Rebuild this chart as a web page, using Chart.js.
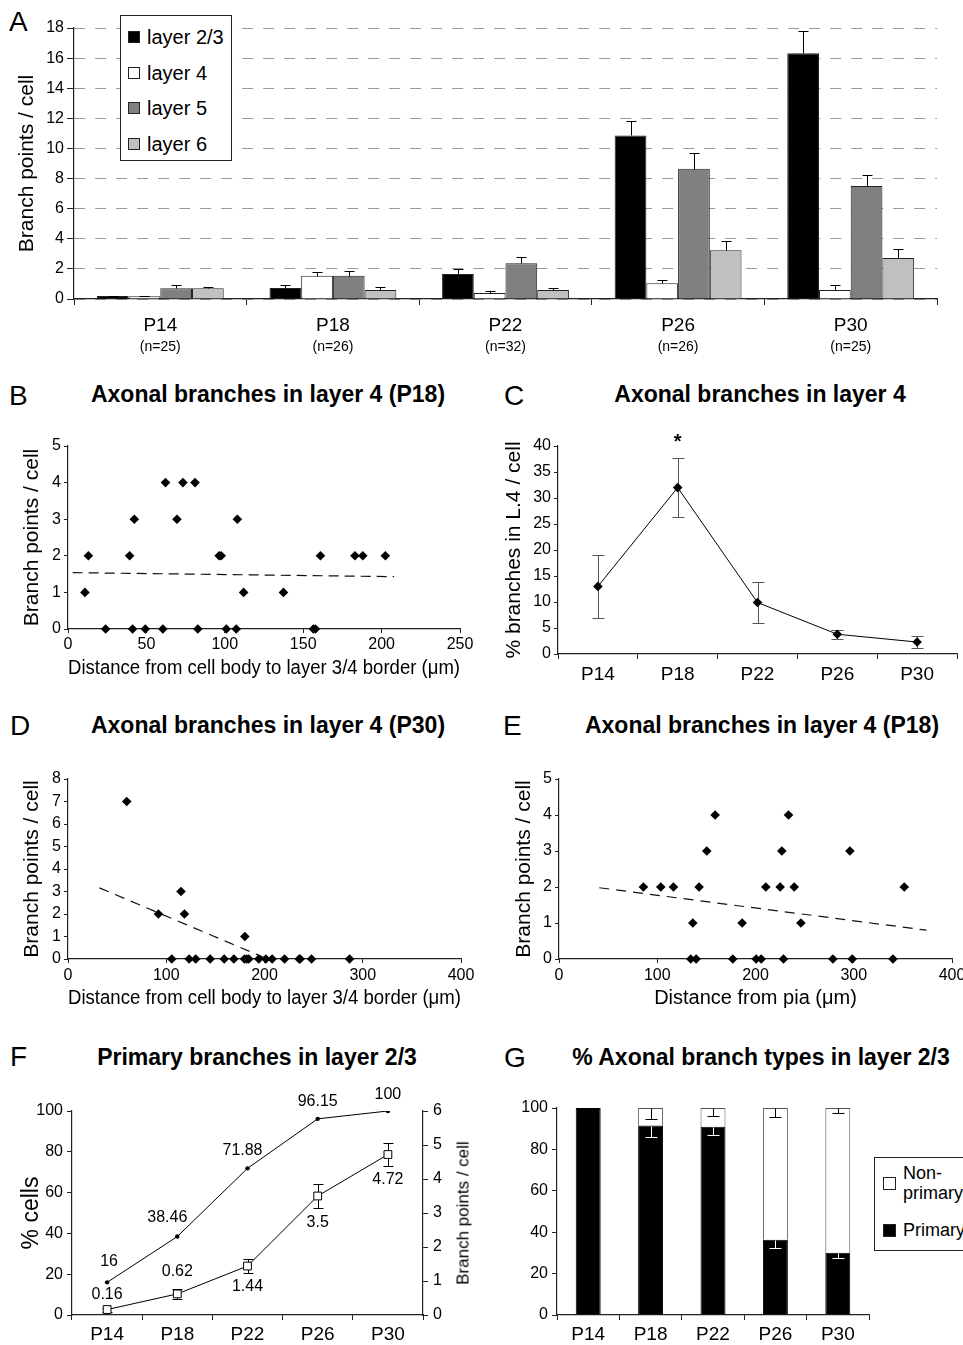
<!DOCTYPE html>
<html>
<head>
<meta charset="utf-8">
<script src="https://cdn.jsdelivr.net/npm/chart.js@4.4.1/dist/chart.umd.min.js"></script>
<style>
  html, body { margin: 0; padding: 0; background: #fff; }
  body { width: 963px; height: 1345px; position: relative; overflow: hidden; font-family: 'Liberation Sans', Arial, sans-serif; color: #000; }
  canvas { position: absolute; }
  .letter { position: absolute; font-size: 28px; line-height: 28px; }
  .title { position: absolute; font-size: 23px; line-height: 23px; font-weight: bold; white-space: nowrap; transform: translateX(-50%); }
  .legend { position: absolute; background: #fff; border: 1px solid #222; }
  .legend .sw { position: absolute; width: 12px; height: 12px; border: 1px solid #222; box-sizing: border-box; }
  .legend .tx { position: absolute; font-size: 20px; line-height: 20px; white-space: nowrap; }
  .rtitle { position: absolute; font-size: 17px; line-height: 17px; white-space: nowrap; transform: translate(-50%, -50%) rotate(-90deg); }
</style>
</head>
<body>

<div class="letter" style="left:9px;top:8px">A</div>
<div class="letter" style="left:9px;top:382px">B</div>
<div class="letter" style="left:504px;top:382px">C</div>
<div class="letter" style="left:10px;top:712px">D</div>
<div class="letter" style="left:503px;top:712px">E</div>
<div class="letter" style="left:10px;top:1043px">F</div>
<div class="letter" style="left:504px;top:1044px">G</div>

<div class="title" style="left:268px;top:383px">Axonal branches in layer 4 (P18)</div>
<div class="title" style="left:760px;top:383px">Axonal branches in layer 4</div>
<div class="title" style="left:268px;top:714px">Axonal branches in layer 4 (P30)</div>
<div class="title" style="left:762px;top:714px">Axonal branches in layer 4 (P18)</div>
<div class="title" style="left:257px;top:1046px">Primary branches in layer 2/3</div>
<div class="title" style="left:761px;top:1046px">% Axonal branch types in layer 2/3</div>

<canvas id="chartA" width="963" height="360" style="left:0;top:0"></canvas>
<canvas id="chartB" width="480" height="270" style="left:0;top:420px"></canvas>
<canvas id="chartC" width="483" height="270" style="left:480px;top:420px"></canvas>
<canvas id="chartD" width="480" height="270" style="left:0;top:750px"></canvas>
<canvas id="chartE" width="503" height="270" style="left:480px;top:750px"></canvas>
<canvas id="chartF" width="480" height="265" style="left:0;top:1080px"></canvas>
<canvas id="chartG" width="483" height="265" style="left:480px;top:1080px"></canvas>

<div class="legend" style="left:120px;top:15px;width:110px;height:144px">
  <div class="sw" style="left:7px;top:15px;background:#000"></div><div class="tx" style="left:26px;top:11px">layer 2/3</div>
  <div class="sw" style="left:7px;top:51px;background:#fff"></div><div class="tx" style="left:26px;top:47px">layer 4</div>
  <div class="sw" style="left:7px;top:86px;background:#808080"></div><div class="tx" style="left:26px;top:82px">layer 5</div>
  <div class="sw" style="left:7px;top:122px;background:#c0c0c0"></div><div class="tx" style="left:26px;top:118px">layer 6</div>
</div>

<div class="legend" style="left:874px;top:1157px;width:110px;height:92px">
  <div class="sw" style="left:8px;top:19px;width:13px;height:13px;background:#fff"></div>
  <div class="tx" style="left:28px;top:5px;font-size:18px;line-height:20px">Non-<br>primary</div>
  <div class="sw" style="left:8px;top:66px;width:13px;height:13px;background:#000"></div>
  <div class="tx" style="left:28px;top:63px;font-size:18px;line-height:18px">Primary</div>
</div>

<div class="rtitle" style="left:463px;top:1213px">Branch points / cell</div>

<script>
// ---- data ----
const ages = ['P14', 'P18', 'P22', 'P26', 'P30'];
const cellCounts = ['(n=25)', '(n=26)', '(n=32)', '(n=26)', '(n=25)'];

// A: branch points per cell by layer
const layer23 = [0.2, 0.73, 1.66, 10.86, 16.33];
const layer23Err = [0.03, 0.18, 0.33, 0.95, 1.44];
const layer4 = [0.18, 1.55, 0.4, 1.04, 0.6];
const layer4Err = [0.02, 0.22, 0.11, 0.2, 0.31];
const layer5 = [0.71, 1.55, 2.37, 8.65, 7.5];
const layer5Err = [0.2, 0.31, 0.44, 1.06, 0.75];
const layer6 = [0.71, 0.6, 0.6, 3.23, 2.72];
const layer6Err = [0.11, 0.22, 0.11, 0.64, 0.62];

// B: P18, distance from layer 3/4 border
const bDist = [10.8, 112, 137.4, 13, 39.3, 96.4, 97.7, 161, 183, 188, 202.4, 42.3, 69.5, 108, 62.2, 73.3, 81, 24, 41.2, 49.3, 60.5, 82.8, 101, 107.3, 156.5, 157.8];
const bBranch = [1, 1, 1, 2, 2, 2, 2, 2, 2, 2, 2, 3, 3, 3, 4, 4, 4, 0, 0, 0, 0, 0, 0, 0, 0, 0];
const bTrendX = [3, 208];
const bTrendY = [1.54, 1.43];

// C: % branches in L4
const cPercent = [13.0, 32.0, 9.9, 3.8, 2.3];
const cErr = [6.1, 5.7, 3.9, 0.9, 1.2];
const cSignif = ['', '*', '', '', ''];

// D: P30, distance from layer 3/4 border
const dDist = [59.8, 92, 115, 118.5, 180, 105.6, 123.3, 130, 144.7, 159, 168.8, 179.6, 182, 184, 194.2, 201.4, 207.8, 220.4, 235.3, 236.3, 247.9, 286.6];
const dBranch = [7, 2, 3, 2, 1, 0, 0, 0, 0, 0, 0, 0, 0, 0, 0, 0, 0, 0, 0, 0, 0, 0];
const dTrendX = [32, 203];
const dTrendY = [3.16, 0];

// E: P18, distance from pia
const eDist = [85.9, 103.6, 116.5, 142.6, 210.5, 225.1, 239.4, 351.4, 150.4, 226.8, 296.1, 158.9, 233.6, 136.2, 186.4, 246.2, 134.1, 139.6, 176.9, 200.7, 205.8, 228.5, 278.8, 298.5, 339.9];
const eBranch = [2, 2, 2, 2, 2, 2, 2, 2, 3, 3, 3, 4, 4, 1, 1, 1, 0, 0, 0, 0, 0, 0, 0, 0, 0];
const eTrendX = [41, 374];
const eTrendY = [1.98, 0.8];

// F: primary branches in layer 2/3
const fPercent = [16, 38.46, 71.88, 96.15, 100];
const fBranch = [0.16, 0.62, 1.44, 3.5, 4.72];
const fBranchErr = [0.06, 0.15, 0.2, 0.35, 0.33];

// G: branch types in layer 2/3
const gPrimary = [100, 91.5, 91, 36.4, 30.1];
const gPrimaryErr = [0, 5.5, 3.9, 4, 2.4];
const gNonPrimary = [0, 8.5, 9, 63.6, 69.9];
const gNonPrimaryErr = [0, 5.5, 3.9, 4.4, 2.4];

// ---- helpers / plugins ----
Chart.defaults.font.family = "'Liberation Sans', Arial, sans-serif";
Chart.defaults.color = '#000';

const pts = (xs, ys) => xs.map((x, i) => ({ x: x, y: ys[i] }));

function drawErrors(chart, before) {
  const ctx = chart.ctx;
  chart.data.datasets.forEach((ds, i) => {
    if (!ds.errors || !!ds.errorBefore !== before) return;
    const meta = chart.getDatasetMeta(i);
    const scale = chart.scales[meta.yAxisID];
    const unit = Math.abs(scale.getPixelForValue(1) - scale.getPixelForValue(0));
    const cap = ds.errorCap || 5;
    const dir = ds.errorDir || 'both';
    ctx.save();
    ctx.strokeStyle = ds.errorColor || '#000';
    ctx.lineWidth = 1;
    meta.data.forEach((el, j) => {
      const e = ds.errors[j];
      if (!e) return;
      const x = Math.round(el.x) + 0.5;
      const top = Math.round(dir === 'down' ? el.y : el.y - e * unit) + 0.5;
      const bot = Math.round(dir === 'up' ? el.y : el.y + e * unit) + 0.5;
      ctx.beginPath();
      ctx.moveTo(x, top);
      ctx.lineTo(x, bot);
      if (dir !== 'down') { ctx.moveTo(x - cap, top); ctx.lineTo(x + cap, top); }
      if (dir !== 'up') { ctx.moveTo(x - cap, bot); ctx.lineTo(x + cap, bot); }
      ctx.stroke();
    });
    ctx.restore();
  });
}

const errorBars = {
  id: 'errorBars',
  beforeDatasetsDraw(chart) { drawErrors(chart, true); },
  afterDatasetsDraw(chart) { drawErrors(chart, false); }
};

// text next to points (values, asterisk)
const pointText = {
  id: 'pointText',
  afterDatasetsDraw(chart) {
    const ctx = chart.ctx;
    chart.data.datasets.forEach((ds, i) => {
      if (!ds.pointText) return;
      const meta = chart.getDatasetMeta(i);
      ctx.save();
      ctx.font = ds.pointTextFont || "16px 'Liberation Sans', Arial";
      ctx.fillStyle = '#000';
      ctx.textAlign = 'center';
      ctx.textBaseline = 'middle';
      meta.data.forEach((el, j) => {
        const t = ds.pointText[j];
        if (t === '' || t === undefined) return;
        const dx = ds.pointTextDx ? ds.pointTextDx[j] : 0;
        ctx.fillText(t, el.x + dx, el.y + ds.pointTextDy[j]);
      });
      ctx.restore();
    });
  }
};

// second line under category labels
const subLabels = {
  id: 'subLabels',
  afterDraw(chart, args, opts) {
    if (!opts.text) return;
    const ctx = chart.ctx;
    const xs = chart.scales.x;
    ctx.save();
    ctx.font = opts.font;
    ctx.fillStyle = '#000';
    ctx.textAlign = 'center';
    ctx.textBaseline = 'middle';
    opts.text.forEach((t, i) => ctx.fillText(t, xs.getPixelForValue(i), chart.chartArea.bottom + opts.offset));
    ctx.restore();
  }
};

Chart.register(errorBars, pointText, subLabels);

function baseOpts(pad) {
  return {
    responsive: false,
    animation: false,
    events: [],
    layout: { padding: pad },
    plugins: { legend: { display: false }, tooltip: { enabled: false } },
    scales: {}
  };
}

function plainAxis(min, max, step, width, tick, title) {
  return {
    type: 'linear', min: min, max: max,
    afterFit: s => { if (s.isHorizontal()) s.height = width; else s.width = width; },
    border: { color: '#222', width: 1.2 },
    grid: { drawOnChartArea: false, drawTicks: true, tickLength: tick.len, color: '#222' },
    ticks: { stepSize: step, font: { size: 16 }, padding: tick.pad },
    title: title
  };
}

// ---- A ----
const barStyle = (label, data, err, fill) => ({
  label: label, data: data, backgroundColor: fill, borderColor: '#222', borderWidth: 1,
  borderSkipped: 'start', categoryPercentage: 0.735, barPercentage: 1.0,
  errors: err, errorDir: 'up', errorCap: 5, errorColor: '#000'
});

const optsA = baseOpts({ top: 28, right: 26, left: 0, bottom: 0 });
optsA.scales = {
  x: {
    type: 'category',
    afterFit: s => { s.height = 61; },
    border: { color: '#222', width: 1.2 },
    grid: { offset: true, drawOnChartArea: false, drawTicks: true, tickLength: 6, color: '#222' },
    ticks: { font: { size: 19 }, padding: 9 }
  },
  y: {
    min: 0, max: 18,
    afterFit: s => { s.width = 74; },
    border: { color: '#222', width: 1.2, dash: [11, 10] },
    grid: { color: '#9a9a9a', lineWidth: 1, drawTicks: true, tickLength: 7, tickColor: '#222' },
    ticks: { stepSize: 2, font: { size: 16 }, padding: 3 },
    title: { display: true, text: 'Branch points / cell', font: { size: 21 }, padding: { top: 15, bottom: 0 } }
  }
};
optsA.plugins.subLabels = { text: cellCounts, font: "14px 'Liberation Sans', Arial", offset: 48 };

new Chart(document.getElementById('chartA'), {
  type: 'bar',
  data: {
    labels: ages,
    datasets: [
      barStyle('layer 2/3', layer23, layer23Err, '#000'),
      barStyle('layer 4', layer4, layer4Err, '#fff'),
      barStyle('layer 5', layer5, layer5Err, '#808080'),
      barStyle('layer 6', layer6, layer6Err, '#c0c0c0')
    ]
  },
  options: optsA
});

// ---- scatter panels B, D, E ----
function scatterChart(id, xs, ys, tx, ty, pad, xMax, xStep, yMax, xTitle, yTitlePad, dash, xTickPad) {
  const opts = baseOpts(pad);
  opts.scales = {
    x: plainAxis(0, xMax, xStep, 61, { len: 4, pad: xTickPad },
      { display: true, text: xTitle, font: { size: 20 }, padding: { top: 0, bottom: 10 } }),
    y: plainAxis(0, yMax, 1, pad.yWidth, { len: 4, pad: 3 },
      { display: true, text: 'Branch points / cell', font: { size: 21 }, padding: { top: yTitlePad, bottom: 0 } })
  };
  new Chart(document.getElementById(id), {
    type: 'scatter',
    data: {
      datasets: [
        { data: pts(xs, ys), pointStyle: 'rectRot', pointRadius: 4.8, backgroundColor: '#000', borderColor: '#000', borderWidth: 0, clip: false },
        { type: 'line', data: pts(tx, ty), showLine: true, pointRadius: 0, borderColor: '#111', borderWidth: 1.2, borderDash: dash, fill: false }
      ]
    },
    options: opts
  });
}

scatterChart('chartB', bDist, bBranch, bTrendX, bTrendY, { top: 26, right: 20, left: 0, bottom: 0, yWidth: 68 },
  250, 50, 5, 'Distance from cell body to layer 3/4 border (\u03bcm)', 20, [10, 6], 2);
scatterChart('chartD', dDist, dBranch, dTrendX, dTrendY, { top: 29, right: 19, left: 0, bottom: 0, yWidth: 68 },
  400, 100, 8, 'Distance from cell body to layer 3/4 border (\u03bcm)', 20, [10, 7], 3);
scatterChart('chartE', eDist, eBranch, eTrendX, eTrendY, { top: 29, right: 31, left: 0, bottom: 0, yWidth: 79 },
  400, 100, 5, 'Distance from pia (\u03bcm)', 32, [10, 7], 3);

// ---- C ----
const optsC = baseOpts({ top: 26, right: 6, left: 0, bottom: 0 });
optsC.scales = {
  x: {
    type: 'category', offset: true,
    afterFit: s => { s.height = 36; },
    border: { color: '#222', width: 1.2 },
    grid: { offset: true, drawOnChartArea: false, drawTicks: true, tickLength: 5, color: '#222' },
    ticks: { font: { size: 19 }, padding: 4 }
  },
  y: plainAxis(0, 40, 5, 78, { len: 4, pad: 3 },
    { display: true, text: '% branches in L.4 / cell', font: { size: 21 }, padding: { top: 22, bottom: 0 } })
};
new Chart(document.getElementById('chartC'), {
  type: 'line',
  data: {
    labels: ages,
    datasets: [{
      data: cPercent, borderColor: '#000', borderWidth: 1, fill: false,
      pointStyle: 'rectRot', pointRadius: 4.8, pointBackgroundColor: '#000', pointBorderWidth: 0,
      errors: cErr, errorDir: 'both', errorCap: 6, errorColor: '#555', errorBefore: true,
      pointText: cSignif, pointTextDy: [0, -45, 0, 0, 0], pointTextFont: "bold 20px 'Liberation Sans', Arial"
    }]
  },
  options: optsC
});

// ---- F ----
const optsF = baseOpts({ top: 31, right: 0, left: 0, bottom: 0 });
optsF.scales = {
  x: {
    type: 'category', offset: true,
    afterFit: s => { s.height = 30; },
    border: { color: '#222', width: 1.2 },
    grid: { offset: true, drawOnChartArea: false, drawTicks: true, tickLength: 5, color: '#222' },
    ticks: { font: { size: 19 }, padding: 3 }
  },
  y: plainAxis(0, 100, 20, 72, { len: 5, pad: 4 },
    { display: true, text: '% cells', font: { size: 23 }, padding: { top: 18, bottom: 0 } }),
  y2: Object.assign(plainAxis(0, 6, 1, 57, { len: 5, pad: 5 }, { display: false }), { position: 'right' })
};
new Chart(document.getElementById('chartF'), {
  type: 'line',
  data: {
    labels: ages,
    datasets: [
      {
        data: fPercent, yAxisID: 'y', borderColor: '#000', borderWidth: 1, fill: false,
        pointStyle: 'circle', pointRadius: 2.2, pointBackgroundColor: '#000', pointBorderWidth: 0,
        pointText: fPercent.map(String), pointTextDy: [-21, -19, -18, -17, -16], pointTextDx: [2, -10, -5, 0, 0]
      },
      {
        data: fBranch, yAxisID: 'y2', borderColor: '#000', borderWidth: 1, fill: false,
        pointStyle: 'rect', pointRadius: 5.5, pointBackgroundColor: '#fff', pointBorderColor: '#000', pointBorderWidth: 1,
        errors: fBranchErr, errorDir: 'both', errorCap: 5, errorColor: '#000', errorBefore: true,
        pointText: fBranch.map(String), pointTextDy: [-15, -22, 21, 27, 25]
      }
    ]
  },
  options: optsF
});

// ---- G ----
const optsG = baseOpts({ top: 28, right: 94, left: 0, bottom: 0 });
optsG.scales = {
  x: {
    type: 'category', stacked: true, offset: true,
    afterFit: s => { s.height = 30; },
    border: { color: '#222', width: 1.2 },
    grid: { offset: true, drawOnChartArea: false, drawTicks: true, tickLength: 5, color: '#222' },
    ticks: { font: { size: 19 }, padding: 3 }
  },
  y: Object.assign(plainAxis(0, 100, 20, 77, { len: 5, pad: 4 }, { display: false }), { stacked: true })
};
new Chart(document.getElementById('chartG'), {
  type: 'bar',
  data: {
    labels: ages,
    datasets: [
      {
        label: 'Primary', data: gPrimary, backgroundColor: '#000', borderColor: '#000', borderWidth: 1,
        barPercentage: 0.4, categoryPercentage: 1.0,
        errors: gPrimaryErr, errorDir: 'down', errorCap: 6, errorColor: '#fff'
      },
      {
        label: 'Non-primary', data: gNonPrimary, backgroundColor: '#fff', borderColor: '#555', borderWidth: 1,
        barPercentage: 0.4, categoryPercentage: 1.0,
        errors: gNonPrimaryErr, errorDir: 'down', errorCap: 6, errorColor: '#000'
      }
    ]
  },
  options: optsG
});
</script>
</body>
</html>
